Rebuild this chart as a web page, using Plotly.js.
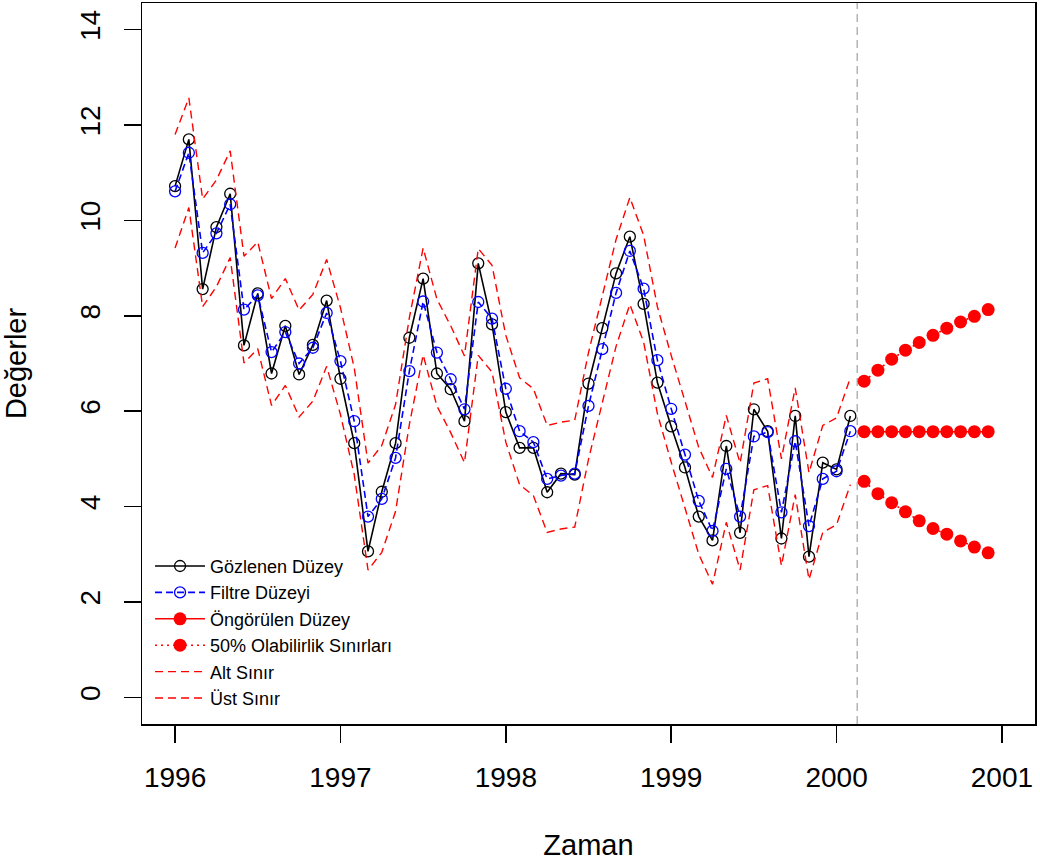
<!DOCTYPE html>
<html>
<head>
<meta charset="utf-8">
<script src="https://cdn.plot.ly/plotly-3.0.1.min.js"></script>
<style>html,body{margin:0;padding:0;background:#fff;}#chart{width:1040px;height:863px;}</style>
</head>
<body>
<div id="chart"></div>
<script>
// Monthly series starting January 1996
const startYear = 1996;
const freq = 12;

const observed = [10.72, 11.70, 8.56, 9.86, 10.56, 7.38, 8.47, 6.79, 7.79, 6.77, 7.39, 8.32,
  6.68, 5.33, 3.06, 4.31, 5.33, 7.54, 8.78, 6.79, 6.46, 5.79, 9.10, 7.82,
  5.98, 5.23, 5.23, 4.30, 4.69, 4.67, 6.58, 7.74, 8.89, 9.66, 8.25, 6.60,
  5.68, 4.82, 3.79, 3.29, 5.27, 3.45, 6.04, 5.58, 3.33, 5.90, 2.95, 4.92,
  4.78, 5.90];

const filtered = [10.61, 11.42, 9.32, 9.73, 10.34, 8.13, 8.43, 7.24, 7.66, 7.00, 7.33, 8.06,
  7.05, 5.79, 3.79, 4.16, 5.02, 6.84, 8.30, 7.23, 6.67, 6.04, 8.29, 7.94,
  6.47, 5.58, 5.35, 4.58, 4.65, 4.69, 6.11, 7.30, 8.48, 9.36, 8.57, 7.07,
  6.05, 5.09, 4.12, 3.49, 4.79, 3.79, 5.47, 5.56, 3.88, 5.37, 3.59, 4.58,
  4.74, 5.58];

const lowerBound = [9.42, 10.27, 8.19, 8.61, 9.22, 7.01, 7.31, 6.12, 6.54, 5.88, 6.21, 6.94,
  5.93, 4.67, 2.67, 3.04, 3.90, 5.72, 7.18, 6.11, 5.55, 4.92, 7.17, 6.82,
  5.35, 4.46, 4.23, 3.46, 3.53, 3.57, 4.99, 6.18, 7.36, 8.24, 7.45, 5.95,
  4.93, 3.97, 3.00, 2.37, 3.67, 2.67, 4.35, 4.44, 2.76, 4.25, 2.47, 3.46,
  3.62, 4.46];

const upperBound = [11.80, 12.57, 10.45, 10.85, 11.46, 9.25, 9.55, 8.36, 8.78, 8.12, 8.45, 9.18,
  8.17, 6.91, 4.91, 5.28, 6.14, 7.96, 9.42, 8.35, 7.79, 7.16, 9.41, 9.06,
  7.59, 6.70, 6.47, 5.70, 5.77, 5.81, 7.23, 8.42, 9.60, 10.48, 9.69, 8.19,
  7.17, 6.21, 5.24, 4.61, 5.91, 4.91, 6.59, 6.68, 5.00, 6.49, 4.71, 5.70,
  5.86, 6.70];

// Forecasts (March 2000 - December 2000)
const forecastStart = 2000 + 2 / 12;
const forecastMid = [5.57, 5.57, 5.57, 5.57, 5.57, 5.57, 5.57, 5.57, 5.57, 5.57];
const forecastUpper = [6.63, 6.86, 7.09, 7.28, 7.44, 7.59, 7.74, 7.87, 7.99, 8.13];
const forecastLower = [4.53, 4.27, 4.08, 3.89, 3.70, 3.54, 3.42, 3.28, 3.15, 3.03];

const xTicks = [1996, 1997, 1998, 1999, 2000, 2001];
const yTicks = [0, 2, 4, 6, 8, 10, 12, 14];
const splitTime = 2000.125;

const tObs = observed.map((_, i) => startYear + i / freq);
const tFc = forecastMid.map((_, i) => forecastStart + i / freq);

const RED = '#ff0000';
const FONT = 'Liberation Sans, Arial, sans-serif';

const traces = [
  {x: tObs, y: observed, name: 'Gözlenen Düzey', mode: 'lines+markers', legendrank: 1,
   line: {color: '#000000', width: 1.6},
   marker: {symbol: 'circle-open', size: 11, color: '#000000', line: {width: 1.3}}},
  {x: tObs, y: filtered, name: 'Filtre Düzeyi', mode: 'lines+markers', legendrank: 2,
   line: {color: '#0000ff', width: 1.6, dash: '7px,4px'},
   marker: {symbol: 'circle-open', size: 11, color: '#0000ff', line: {width: 1.3}}},
  {x: tFc, y: forecastMid, name: 'Öngörülen Düzey', mode: 'lines+markers', legendrank: 3,
   line: {color: RED, width: 1.6},
   marker: {symbol: 'circle', size: 13, color: RED}},
  {x: tFc, y: forecastUpper, name: '50% Olabilirlik Sınırları', mode: 'lines+markers', legendrank: 4,
   legendgroup: 'pi', line: {color: RED, width: 1.6, dash: '2px,4px'},
   marker: {symbol: 'circle', size: 13, color: RED}},
  {x: tFc, y: forecastLower, name: '50% Olabilirlik Sınırları', mode: 'lines+markers', showlegend: false,
   legendgroup: 'pi', line: {color: RED, width: 1.6, dash: '2px,4px'},
   marker: {symbol: 'circle', size: 13, color: RED}},
  {x: tObs, y: lowerBound, name: 'Alt Sınır', mode: 'lines', legendrank: 5,
   line: {color: RED, width: 1.4, dash: '8px,5px'}},
  {x: tObs, y: upperBound, name: 'Üst Sınır', mode: 'lines', legendrank: 6,
   line: {color: RED, width: 1.4, dash: '8px,5px'}}
];

const layout = {
  width: 1040, height: 863,
  margin: {l: 142, r: 5, t: 3, b: 139, pad: 0},
  paper_bgcolor: '#ffffff', plot_bgcolor: '#ffffff',
  font: {family: FONT, color: '#000000'},
  showlegend: true,
  legend: {x: 0.009, y: 0.01, xanchor: 'left', yanchor: 'bottom',
           bgcolor: 'rgba(0,0,0,0)', borderwidth: 0, itemwidth: 50,
           font: {family: FONT, size: 18, color: '#000000'}, traceorder: 'normal'},
  xaxis: {range: [1995.8, 2001.2], tickvals: xTicks, ticktext: xTicks.map(String),
          showgrid: false, zeroline: false, showline: true, mirror: true,
          linecolor: '#000000', linewidth: 1.5, ticks: 'outside', ticklen: 17, tickwidth: 1.5,
          tickcolor: '#000000', ticklabelstandoff: 11,
          tickfont: {family: FONT, size: 28, color: '#000000'},
          title: {text: 'Zaman', font: {family: FONT, size: 29, color: '#000000'}, standoff: 42}},
  yaxis: {range: [-0.56, 14.56], tickvals: yTicks, ticktext: yTicks.map(String), tickangle: -90,
          showgrid: false, zeroline: false, showline: true, mirror: true,
          linecolor: '#000000', linewidth: 1.5, ticks: 'outside', ticklen: 17, tickwidth: 1.5,
          tickcolor: '#000000', ticklabelstandoff: 12,
          tickfont: {family: FONT, size: 28, color: '#000000'},
          title: {text: 'Değerler', font: {family: FONT, size: 29, color: '#000000'}, standoff: 40}},
  shapes: [{type: 'line', xref: 'x', yref: 'paper', x0: splitTime, x1: splitTime, y0: 0, y1: 1,
            line: {color: '#b4b4b4', width: 1.5, dash: '8px,5px'}, layer: 'below'}]
};

Plotly.newPlot('chart', traces, layout, {displayModeBar: false, staticPlot: true});
</script>
</body>
</html>
